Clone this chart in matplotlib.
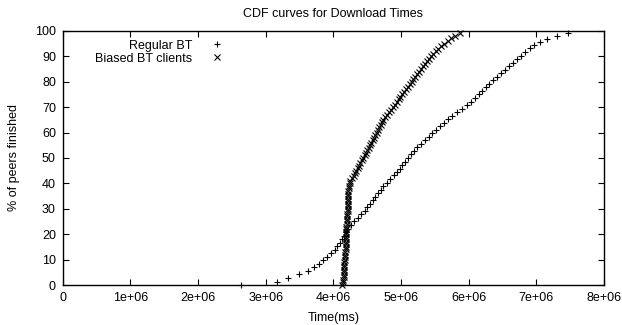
import matplotlib
matplotlib.use("Agg")
import matplotlib.pyplot as plt

plt.rcParams['font.family'] = ['Liberation Sans', 'DejaVu Sans']

# download time (x1e6 ms) vs % of peers finished
regular_x = [2.63, 3.16, 3.33, 3.49, 3.63, 3.72, 3.78, 3.85, 3.91, 3.97,
             4.02, 4.06, 4.10, 4.13, 4.16, 4.19, 4.22, 4.26, 4.31, 4.36,
             4.41, 4.46, 4.50, 4.54, 4.58, 4.62, 4.66, 4.70, 4.74, 4.79,
             4.84, 4.89, 4.94, 4.98, 5.02, 5.06, 5.10, 5.14, 5.19, 5.24,
             5.30, 5.36, 5.41, 5.46, 5.52, 5.58, 5.64, 5.70, 5.76, 5.83,
             5.90, 5.97, 6.04, 6.10, 6.15, 6.20, 6.25, 6.30, 6.36, 6.42,
             6.48, 6.54, 6.60, 6.66, 6.72, 6.78, 6.84, 6.90, 6.97, 7.05,
             7.16, 7.30, 7.47]
regular_y = [0.0, 1.3, 2.9, 4.2, 5.6, 7.0, 8.3, 9.7, 11.1, 12.5,
             13.9, 15.3, 16.7, 18.1, 19.4, 20.8, 22.2, 23.6, 25.0, 26.4,
             27.8, 29.2, 30.6, 31.9, 33.3, 34.7, 36.1, 37.5, 38.9, 40.3,
             41.7, 43.1, 44.4, 45.8, 47.2, 48.6, 50.0, 51.4, 52.8, 54.2,
             55.6, 56.9, 58.3, 59.7, 61.1, 62.5, 63.9, 65.3, 66.7, 68.1,
             69.4, 70.8, 72.2, 73.6, 75.0, 76.4, 77.8, 79.2, 80.6, 81.9,
             83.3, 84.7, 86.1, 87.5, 88.9, 90.3, 91.7, 93.1, 94.4, 95.8,
             96.8, 97.9, 99.0]

biased_x = [4.13, 4.14, 4.14, 4.15, 4.15, 4.15, 4.16, 4.16, 4.16, 4.16,
            4.17, 4.17, 4.17, 4.17, 4.18, 4.18, 4.18, 4.18, 4.18, 4.19,
            4.19, 4.19, 4.19, 4.19, 4.20, 4.20, 4.20, 4.20, 4.20, 4.21,
            4.21, 4.21, 4.21, 4.21, 4.22, 4.22, 4.22, 4.22, 4.23, 4.23,
            4.24, 4.25, 4.28, 4.30, 4.32, 4.34, 4.36, 4.38, 4.40, 4.42,
            4.44, 4.46, 4.48, 4.50, 4.52, 4.54, 4.56, 4.58, 4.60, 4.62,
            4.64, 4.66, 4.68, 4.70, 4.72, 4.74, 4.77, 4.79, 4.82, 4.85,
            4.88, 4.91, 4.94, 4.97, 4.99, 5.02, 5.05, 5.08, 5.10, 5.13,
            5.16, 5.18, 5.21, 5.23, 5.26, 5.29, 5.32, 5.35, 5.38, 5.41,
            5.44, 5.47, 5.51, 5.55, 5.59, 5.64, 5.69, 5.74, 5.80, 5.87]
biased_y = [0, 1, 2, 3, 4, 5, 6, 7, 8, 9,
            10, 11, 12, 13, 14, 15, 16, 17, 18, 19,
            20, 21, 22, 23, 24, 25, 26, 27, 28, 29,
            30, 31, 32, 33, 34, 35, 36, 37, 38, 39,
            40, 41, 42, 43, 44, 45, 46, 47, 48, 49,
            50, 51, 52, 53, 54, 55, 56, 57, 58, 59,
            60, 61, 62, 63, 64, 65, 66, 67, 68, 69,
            70, 71, 72, 73, 74, 75, 76, 77, 78, 79,
            80, 81, 82, 83, 84, 85, 86, 87, 88, 89,
            90, 91, 92, 93, 94, 95, 96, 97, 98, 99]

x_ticks = [0, 1, 2, 3, 4, 5, 6, 7, 8]
x_tick_labels = ['0', '1e+06', '2e+06', '3e+06', '4e+06', '5e+06', '6e+06', '7e+06', '8e+06']
y_ticks = [0, 10, 20, 30, 40, 50, 60, 70, 80, 90, 100]

fig = plt.figure(figsize=(6.22, 3.25), dpi=100)
ax = fig.add_axes([0.101, 0.123, 0.870, 0.782])

ax.plot(regular_x, regular_y, linestyle='none', marker='+', color='black',
        markersize=5, markeredgewidth=0.8, label='Regular BT',
        clip_on=False, zorder=3)
ax.plot(biased_x, biased_y, linestyle='none', marker='x', color='black',
        markersize=4, markeredgewidth=0.8, label='Biased BT clients',
        clip_on=False, zorder=3)

ax.set_xlim(0, 8)
ax.set_ylim(0, 100)
ax.set_xticks(x_ticks)
ax.set_xticklabels(x_tick_labels)
ax.set_yticks(y_ticks)
ax.tick_params(direction='in', top=True, right=True, length=4, width=0.8,
               labelsize=9, pad=5)
for s in ax.spines.values():
    s.set_linewidth(1.0)

ax.set_title('CDF curves for Download Times', fontsize=9, pad=10)
ax.set_xlabel('Time(ms)', fontsize=9, labelpad=6)
ax.set_ylabel('% of peers finished', fontsize=9, labelpad=11)

leg = ax.legend(loc='upper right', frameon=False, markerfirst=False, fontsize=9,
                handlelength=1.0, handletextpad=1.45, borderaxespad=0,
                borderpad=0, labelspacing=0.1, bbox_to_anchor=(0.296, 0.966))
for t in leg.get_texts():
    t.set_ha('right')
    t.set_position((0, 0))

fig.savefig('out.png', dpi=100)
